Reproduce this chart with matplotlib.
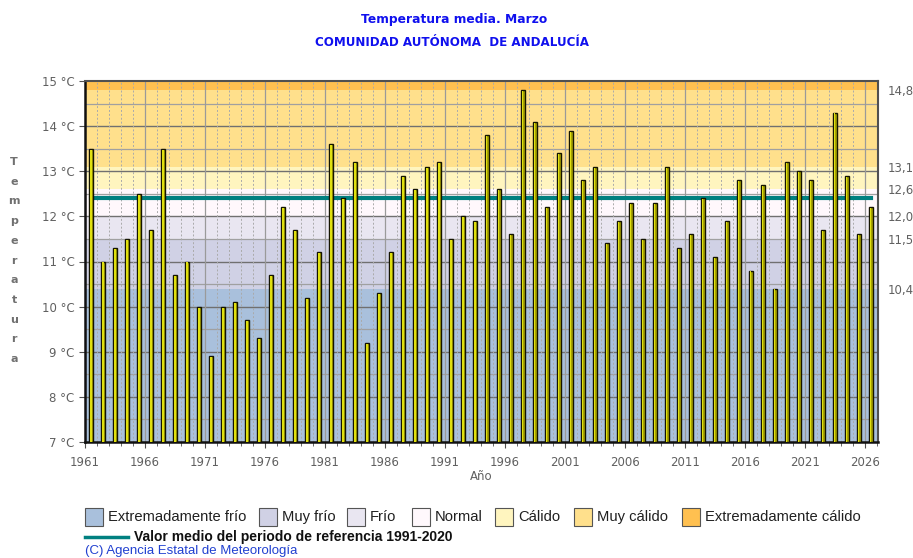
#!/usr/bin/env python

# Mean March temperature, Andalucia - bars over climate category bands

import numpy as np
import matplotlib

matplotlib.use("Agg")
import matplotlib.pyplot as plt
from matplotlib.patches import Rectangle
from matplotlib.lines import Line2D

years = list(range(1961, 2027))
temps = [
    13.5, 11.0, 11.3, 11.5, 12.5, 11.7, 13.5, 10.7, 11.0, 10.0,
    8.9, 10.0, 10.1, 9.7, 9.3, 10.7, 12.2, 11.7, 10.2, 11.2,
    13.6, 12.4, 13.2, 9.2, 10.3, 11.2, 12.9, 12.6, 13.1, 13.2,
    11.5, 12.0, 11.9, 13.8, 12.6, 11.6, 14.8, 14.1, 12.2, 13.4,
    13.9, 12.8, 13.1, 11.4, 11.9, 12.3, 11.5, 12.3, 13.1, 11.3,
    11.6, 12.4, 11.1, 11.9, 12.8, 10.8, 12.7, 10.4, 13.2, 13.0,
    12.8, 11.7, 14.3, 12.9, 11.6, 12.2,
]
ref_mean = 12.4

# category thresholds (right axis) and band colours
thresholds = [10.4, 11.5, 12.0, 12.6, 13.1, 14.8]
threshold_labels = ["10,4", "11,5", "12,0", "12,6", "13,1", "14,8"]
categories = ["Extremadamente frío", "Muy frío", "Frío", "Normal",
              "Cálido", "Muy cálido", "Extremadamente cálido"]
band_colors = ["#a9c0dc", "#d0d1e5", "#e9e6f1", "#fff8fc",
               "#fff5bf", "#ffe08c", "#ffc050"]

ymin, ymax = 7, 15

fig = plt.figure(figsize=(9.13, 5.58), dpi=100, facecolor="white")
ax = fig.add_axes([85 / 913, 1 - 442 / 558, (878 - 85) / 913, (442 - 81) / 558])

# Background bands
edges = [ymin] + thresholds + [ymax]
for lo, hi, c in zip(edges[:-1], edges[1:], band_colors):
    ax.axhspan(lo, hi, color=c, zorder=0, lw=0)

# Grid
for v in np.arange(7.5, 15, 0.5):
    if v == int(v):
        ax.axhline(v, color="#707070", lw=1.0, zorder=1)
    else:
        ax.axhline(v, color="#a0a0a0", lw=0.9, zorder=1)
for yr in range(1962, 2028):
    if (yr - 1961) % 5 == 0:
        ax.axvline(yr, color="#9a9a9a", lw=0.9, zorder=1)
    else:
        ax.axvline(yr, color="#aaaaaa", lw=0.7, ls=(0, (2, 2)), zorder=1)

# Reference mean (behind the bars)
xpos = np.array(years) + 0.5
ax.plot([xpos[0], xpos[-1]], [ref_mean, ref_mean], color="#008080", lw=3, zorder=2)

# Bars
ax.bar(xpos, np.array(temps) - ymin, bottom=ymin, width=0.36,
       color="#a8a400", edgecolor="#141400", linewidth=1.0, zorder=3)
ax.bar(xpos, np.array(temps) - ymin - 0.02, bottom=ymin, width=0.1,
       color="#e0e010", linewidth=0, zorder=4)

ax.set_xlim(1961, 2027.1)
ax.set_ylim(ymin, ymax)
ax.set_xticks(range(1961, 2027, 5))
ax.set_xticks(range(1961, 2028), minor=True)
ax.set_yticks(range(7, 16))
ax.set_yticklabels(["%d °C" % v for v in range(7, 16)])
ax.tick_params(axis="both", colors="#505050", labelsize=8.5, length=4)
ax.tick_params(axis="x", which="minor", length=3, color="#505050")
ax.tick_params(axis="x", pad=6)
for lab in ax.get_xticklabels() + ax.get_yticklabels():
    lab.set_color("#606060")
ax.set_xlabel("Año", color="#606060", fontsize=8.5, labelpad=1)

for side in ["left", "bottom"]:
    ax.spines[side].set_color("#101010")
    ax.spines[side].set_linewidth(1.8)
for side in ["top", "right"]:
    ax.spines[side].set_color("#505050")
    ax.spines[side].set_linewidth(1.5)

# Right threshold labels
ax2 = ax.twinx()
ax2.set_ylim(ymin, ymax)
ax2.set_yticks(thresholds)
ax2.set_yticklabels(threshold_labels)
ax2.tick_params(axis="y", length=0, labelsize=8.5, colors="#606060", pad=7)
for s in ax2.spines.values():
    s.set_visible(False)

# Vertical stacked y label
for i, ch in enumerate("Temperatura"):
    fig.text(14 / 913, 1 - (162 + i * 19.7) / 558, ch, ha="center", va="center",
             fontsize=8, fontweight="bold", color="#707070")

# Titles
fig.text(0.497, 1 - 20 / 558, "Temperatura media. Marzo", ha="center", va="center",
         fontsize=8.8, fontweight="bold", color="#1010ee", family="Liberation Sans Narrow")
fig.text(0.495, 1 - 42 / 558, "COMUNIDAD AUTÓNOMA  DE ANDALUCÍA", ha="center", va="center",
         fontsize=8.6, fontweight="bold", color="#1010ee", family="Liberation Sans Narrow")

# Legend of categories
leg_x = [85, 259, 347, 412, 495, 574, 682]
for x0, name, c in zip(leg_x, categories, band_colors):
    fig.patches.append(Rectangle((x0 / 913, 1 - 526 / 558), 18 / 913, 18 / 558,
                                 transform=fig.transFigure, facecolor=c,
                                 edgecolor="#555555", lw=0.8))
    fig.text((x0 + 23) / 913, 1 - 517 / 558, name, ha="left", va="center",
             fontsize=10.6, color="#202020", family="Liberation Sans")

fig.lines.append(Line2D([85 / 913, 128 / 913], [1 - 537 / 558, 1 - 537 / 558],
                        transform=fig.transFigure, color="#008080", lw=2.5))
fig.text(134 / 913, 1 - 537 / 558, "Valor medio del periodo de referencia 1991-2020",
         ha="left", va="center", fontsize=10, fontweight="bold", color="#101010",
         family="Liberation Sans")
fig.text(85 / 913, 1 - 551 / 558, "(C) Agencia Estatal de Meteorología", ha="left",
         va="center", fontsize=9.5, color="#2040d0", family="Liberation Sans")

fig.savefig("out.png", dpi=100, facecolor="white")
